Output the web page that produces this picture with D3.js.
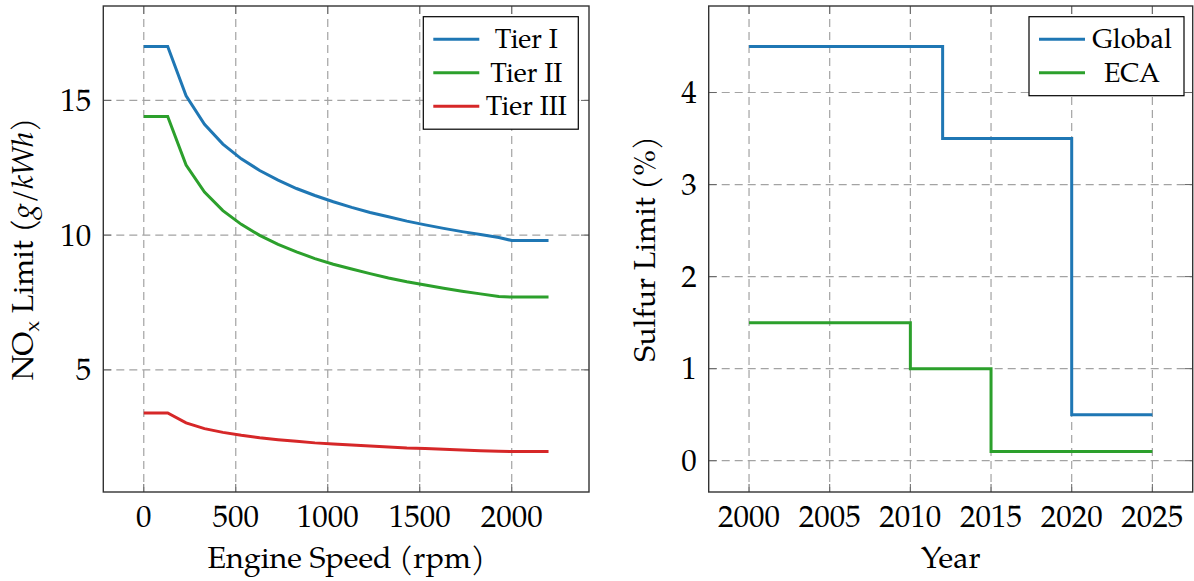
<!DOCTYPE html>
<html>
<head>
<meta charset="utf-8">
<script src="https://cdn.jsdelivr.net/npm/d3@7/dist/d3.min.js"></script>
<style>
  html, body { margin: 0; padding: 0; background: #fff; }
  svg { display: block; }
  text { font-family: "Palatino Linotype", "TeX Gyre Pagella", "Liberation Serif", serif; fill: #000; }
</style>
</head>
<body>
<svg id="chart" width="1194" height="581"></svg>
<script>
// ---- NOx limits vs. rated engine speed ----
const speedRpm = [0, 130, 230, 330, 430, 530, 630, 730, 830, 930, 1030, 1130, 1230, 1330, 1430, 1530, 1630, 1730, 1830, 1930, 2000, 2200];
const tierI   = [17.0, 17.0, 15.17, 14.11, 13.38, 12.83, 12.40, 12.04, 11.73, 11.47, 11.24, 11.03, 10.84, 10.68, 10.52, 10.38, 10.25, 10.13, 10.02, 9.91, 9.8, 9.8];
const tierII  = [14.4, 14.4, 12.60, 11.60, 10.91, 10.40, 9.99, 9.66, 9.38, 9.13, 8.92, 8.74, 8.57, 8.41, 8.27, 8.15, 8.03, 7.92, 7.82, 7.72, 7.7, 7.7];
const tierIII = [3.4, 3.4, 3.03, 2.82, 2.68, 2.57, 2.48, 2.41, 2.35, 2.29, 2.25, 2.21, 2.17, 2.14, 2.10, 2.08, 2.05, 2.03, 2.00, 1.98, 1.97, 1.97];
const tierNames = ["Tier I", "Tier II", "Tier III"];
const speedTicks = [0, 500, 1000, 1500, 2000];
const noxTicks = [5, 10, 15];

// ---- Fuel sulfur limits by year (steps) ----
const globalYears = [2000, 2012, 2020, 2025];
const globalSulfur = [4.5, 3.5, 0.5, 0.5];
const ecaYears = [2000, 2010, 2015, 2025];
const ecaSulfur = [1.5, 1.0, 0.1, 0.1];
const sulfurNames = ["Global", "ECA"];
const yearTicks = [2000, 2005, 2010, 2015, 2020, 2025];
const sulfurTicks = [0, 1, 2, 3, 4];

const colors = ["#1f77b4", "#2ca02c", "#d62728"];

const svg = d3.select("#chart");

// 10% padding on each side of the data range
function enlarge(values) {
  const [lo, hi] = d3.extent(values);
  const pad = (hi - lo) * 0.1;
  return [lo - pad, hi + pad];
}

function drawPanel(opt) {
  const { left, right, top, bottom } = opt.box;
  const x = d3.scaleLinear().domain(enlarge(opt.xAll)).range([left, right]);
  const y = d3.scaleLinear().domain(enlarge(opt.yAll)).range([bottom, top]);
  const g = svg.append("g");

  // grid
  g.append("g").selectAll("line").data(opt.xTicks).join("line")
    .attr("x1", d => x(d)).attr("x2", d => x(d))
    .attr("y1", top).attr("y2", bottom)
    .attr("stroke", "#a3a3a3").attr("stroke-width", 1.2).attr("stroke-dasharray", "8,5");
  g.append("g").selectAll("line").data(opt.yTicks).join("line")
    .attr("y1", d => y(d)).attr("y2", d => y(d))
    .attr("x1", left).attr("x2", right)
    .attr("stroke", "#a3a3a3").attr("stroke-width", 1.2).attr("stroke-dasharray", "8,5");

  // inner ticks on all four sides
  const tl = 8;
  const tk = g.append("g").attr("stroke", "#666").attr("stroke-width", 1);
  opt.xTicks.forEach(d => {
    tk.append("line").attr("x1", x(d)).attr("x2", x(d)).attr("y1", bottom).attr("y2", bottom - tl);
    tk.append("line").attr("x1", x(d)).attr("x2", x(d)).attr("y1", top).attr("y2", top + tl);
  });
  opt.yTicks.forEach(d => {
    tk.append("line").attr("y1", y(d)).attr("y2", y(d)).attr("x1", left).attr("x2", left + tl);
    tk.append("line").attr("y1", y(d)).attr("y2", y(d)).attr("x1", right).attr("x2", right - tl);
  });

  // series
  opt.series.forEach((s, i) => {
    const line = d3.line().x(p => x(p[0])).y(p => y(p[1]));
    if (opt.step) line.curve(d3.curveStepAfter);
    g.append("path")
      .datum(s.xs.map((v, k) => [v, s.ys[k]]))
      .attr("fill", "none").attr("stroke", colors[i]).attr("stroke-width", 3)
      .attr("stroke-linejoin", "miter")
      .attr("d", line);
  });

  // frame
  g.append("rect").attr("x", left).attr("y", top)
    .attr("width", right - left).attr("height", bottom - top)
    .attr("fill", "none").attr("stroke", "#333").attr("stroke-width", 1.4);

  // tick labels
  g.append("g").selectAll("text").data(opt.xTicks).join("text")
    .attr("x", d => x(d)).attr("y", bottom + 35)
    .attr("text-anchor", "middle").attr("font-size", 31)
    .text(d => d);
  g.append("g").selectAll("text").data(opt.yTicks).join("text")
    .attr("x", left - 12).attr("y", d => y(d) + 10.5)
    .attr("text-anchor", "end").attr("font-size", 31)
    .text(d => d);

  // x label
  g.append("text").attr("x", (left + right) / 2).attr("y", 568)
    .attr("text-anchor", "middle").attr("font-size", 30.5)
    .text(opt.xLabel);

  // y label
  const yl = g.append("text")
    .attr("transform", `translate(${opt.yLabelX},${(top + bottom) / 2}) rotate(-90)`)
    .attr("text-anchor", "middle").attr("font-size", 30.5);
  opt.yLabel(yl);

  // legend
  const lg = opt.legend;
  const rowH = 33.5;
  const lh = 12 + rowH * opt.series.length;
  g.append("rect").attr("x", lg.x).attr("y", lg.y).attr("width", lg.w).attr("height", lh)
    .attr("fill", "#fff").attr("stroke", "#000").attr("stroke-width", 1.2);
  opt.series.forEach((s, i) => {
    const cy = lg.y + 22.5 + i * rowH;
    g.append("line").attr("x1", lg.x + 10).attr("x2", lg.x + 56)
      .attr("y1", cy).attr("y2", cy)
      .attr("stroke", colors[i]).attr("stroke-width", 3);
    g.append("text").attr("x", lg.x + 103).attr("y", cy + 9)
      .attr("text-anchor", "middle").attr("font-size", 27)
      .text(s.name);
  });
}

drawPanel({
  box: { left: 103.3, right: 589, top: 6, bottom: 492 },
  xAll: speedRpm,
  yAll: tierI.concat(tierII, tierIII),
  xTicks: speedTicks,
  yTicks: noxTicks,
  series: [tierI, tierII, tierIII].map((ys, i) => ({ name: tierNames[i], xs: speedRpm, ys })),
  step: false,
  xLabel: "Engine Speed (rpm)",
  yLabelX: 33,
  yLabel: t => {
    t.append("tspan").text("NO");
    t.append("tspan").attr("font-size", 21).attr("dy", 6).text("x");
    t.append("tspan").attr("dy", -6).text(" Limit (");
    t.append("tspan").attr("font-style", "italic").text("g");
    t.append("tspan").text("/");
    t.append("tspan").attr("font-style", "italic").text("kWh");
    t.append("tspan").text(")");
  },
  legend: { x: 423.3, y: 16.7, w: 155 }
});

drawPanel({
  box: { left: 708.7, right: 1192.7, top: 6, bottom: 492 },
  xAll: globalYears.concat(ecaYears),
  yAll: globalSulfur.concat(ecaSulfur),
  xTicks: yearTicks,
  yTicks: sulfurTicks,
  series: [
    { name: sulfurNames[0], xs: globalYears, ys: globalSulfur },
    { name: sulfurNames[1], xs: ecaYears, ys: ecaSulfur }
  ],
  step: true,
  xLabel: "Year",
  yLabelX: 655,
  yLabel: t => t.text("Sulfur Limit (%)"),
  legend: { x: 1029, y: 16.7, w: 155 }
});
</script>
</body>
</html>
